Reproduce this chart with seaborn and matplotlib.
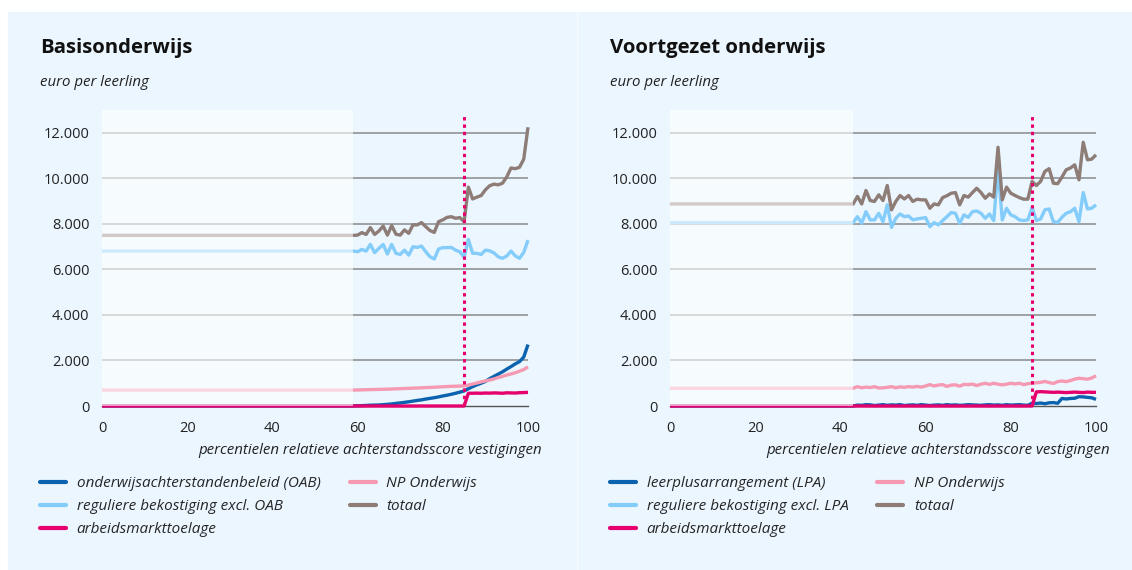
import numpy as np
import pandas as pd
import matplotlib.pyplot as plt
import matplotlib.patches as mpatches
from matplotlib.lines import Line2D
from matplotlib.ticker import FuncFormatter
import seaborn as sns

# ---- data: basisonderwijs (flat part up to pct 59, then per percentile 59..100)
bo_start = 59
bo_totaal = [7500, 7510, 7620, 7540, 7840, 7540, 7690, 7910, 7510, 7930, 7550,
             7510, 7740, 7590, 7960, 7960, 8060, 7880, 7710, 7630, 8100, 8180,
             8290, 8320, 8250, 8280, 8100, 9620, 9100, 9180, 9250, 9500, 9680,
             9750, 9720, 9790, 10060, 10460, 10430, 10490, 10850, 12250]
bo_regulier = [6810, 6780, 6880, 6810, 7100, 6740, 6930, 7100, 6680, 7100, 6710,
               6660, 6850, 6630, 7000, 6970, 7030, 6780, 6560, 6460, 6900, 6960,
               6960, 6970, 6850, 6780, 6530, 7320, 6710, 6710, 6660, 6850, 6820,
               6730, 6560, 6490, 6590, 6810, 6600, 6490, 6750, 7290]
bo_oab = [0, 10, 15, 25, 35, 40, 45, 60, 75, 90, 115, 135, 160, 185, 215, 245,
          270, 305, 335, 365, 400, 440, 475, 515, 560, 610, 660, 760, 850, 930,
          1000, 1080, 1200, 1300, 1400, 1500, 1620, 1730, 1850, 1950, 2150, 2700]
bo_np = [700, 705, 710, 715, 720, 725, 730, 735, 740, 745, 755, 760, 770, 775,
         785, 790, 800, 810, 815, 825, 835, 845, 855, 865, 870, 875, 880, 920,
         965, 1010, 1060, 1100, 1140, 1190, 1250, 1300, 1360, 1410, 1460, 1530,
         1600, 1720]
bo_amt = [0] * 27 + [560, 560, 565, 560, 570, 565, 575, 570, 560, 580, 575,
                     570, 585, 590, 600]

# ---- data: voortgezet onderwijs (flat part up to pct 43, then per percentile 43..100)
vo_start = 43
vo_totaal = [8880, 9210, 8880, 9470, 9030, 8990, 9280, 9030, 9690, 8620, 8990,
             9250, 9100, 9250, 8990, 9090, 9060, 9060, 8690, 8880, 8840, 9160,
             9240, 9350, 9380, 8840, 9250, 9180, 9380, 9570, 9380, 9130, 9320,
             9180, 11370, 9060, 9620, 9350, 9250, 9160, 9090, 9090, 9870, 9690,
             9870, 10310, 10430, 9790, 9770, 10060, 10380, 10460, 10600, 9940,
             11590, 10820, 10850, 11040]
vo_regulier = [8060, 8320, 8030, 8540, 8180, 8180, 8470, 8100, 8840, 7850, 8250,
               8440, 8320, 8350, 8180, 8220, 8250, 8280, 7880, 8060, 7960, 8150,
               8320, 8500, 8470, 8030, 8400, 8290, 8540, 8570, 8470, 8250, 8440,
               8150, 10450, 8180, 8690, 8400, 8320, 8180, 8150, 8180, 8730, 8150,
               8220, 8620, 8660, 8100, 8070, 8290, 8470, 8540, 8690, 8100, 9380,
               8660, 8690, 8840]
vo_lpa = [0, 40, 30, 60, 50, 20, 40, 60, 30, 50, 40, 60, 20, 40, 50, 30, 60,
          40, 20, 40, 50, 30, 60, 40, 50, 30, 40, 60, 50, 40, 30, 50, 60, 40,
          50, 30, 60, 40, 50, 60, 40, 30, 120, 110, 130, 100, 140, 150, 120,
          330, 310, 330, 340, 410, 400, 380, 360, 290]
vo_np = [780, 850, 800, 830, 810, 850, 790, 800, 820, 850, 800, 840, 820, 850,
         830, 860, 830, 880, 940, 880, 920, 940, 860, 920, 930, 870, 950, 940,
         960, 900, 960, 1000, 950, 1000, 960, 930, 960, 1000, 970, 1000, 940,
         980, 1000, 1020, 1040, 1080, 1030, 990, 1070, 1100, 1070, 1120, 1180,
         1220, 1200, 1180, 1230, 1330]
vo_amt = [0] * 43 + [620, 630, 620, 610, 600, 610, 600, 590, 600, 610, 600,
                     590, 610, 600, 600]

cutoff = 85
yticks = [0, 2000, 4000, 6000, 8000, 10000, 12000]
xticks = [0, 20, 40, 60, 80, 100]

series_order = ["prog", "regulier", "np", "totaal", "amt"]
colors = {"prog": "#0b62ae", "regulier": "#84cdfb", "amt": "#e5006e",
          "np": "#f59ab2", "totaal": "#8e7c77"}

panels = [
    dict(title="Basisonderwijs", start=bo_start,
         data={"prog": bo_oab, "regulier": bo_regulier, "amt": bo_amt,
               "np": bo_np, "totaal": bo_totaal},
         labels={"prog": "onderwijsachterstandenbeleid (OAB)",
                 "regulier": "reguliere bekostiging excl. OAB"}),
    dict(title="Voortgezet onderwijs", start=vo_start,
         data={"prog": vo_lpa, "regulier": vo_regulier, "amt": vo_amt,
               "np": vo_np, "totaal": vo_totaal},
         labels={"prog": "leerplusarrangement (LPA)",
                 "regulier": "reguliere bekostiging excl. LPA"}),
]

sns.set_theme(style="white")
plt.rcParams["font.family"] = ["Open Sans", "DejaVu Sans"]

W, H = 1132, 570
fig = plt.figure(figsize=(W / 100, H / 100), dpi=100)
fig.patch.set_facecolor("white")

# light blue panel backgrounds (behind the axes)
bg = "#ebf6fe"
fig.patches.append(mpatches.Rectangle((8 / W, 0), (576 - 8) / W, (H - 12) / H,
                                      transform=fig.transFigure, color=bg, zorder=-5))
fig.patches.append(mpatches.Rectangle((578 / W, 0), (W - 578) / W, (H - 12) / H,
                                      transform=fig.transFigure, color=bg, zorder=-5))

ymax = 13000
ax_w = 426 / W
ax_b = (H - 406) / H
ax_h = (406 - 110.2) / H

for i, p in enumerate(panels):
    x0 = 102 if i == 0 else 670
    ax = fig.add_axes([x0 / W, ax_b, ax_w, ax_h])
    ax.set_facecolor("none")

    # long table: flat part from 0 to start, then one point per percentile
    rows = []
    for key in series_order:
        vals = p["data"][key]
        rows.append((key, 0, vals[0]))
        for k, v in enumerate(vals):
            rows.append((key, p["start"] + k, v))
    df = pd.DataFrame(rows, columns=["reeks", "pct", "euro"])

    for key in series_order:
        sub = df[df["reeks"] == key]
        sns.lineplot(data=sub, x="pct", y="euro", color=colors[key], lw=2.4,
                     ax=ax, legend=False, zorder=3, clip_on=False,
                     solid_capstyle="butt")

    for yv in yticks[1:]:
        ax.axhline(yv, color="#8a8a8a", lw=1.1, zorder=1)

    ax.axvline(cutoff, ymin=0, ymax=12800 / ymax, color="#e5006e", lw=2.2,
               linestyle=(0, (1.1, 1.3)), zorder=4)

    # faded area before the first varying percentile
    ax.add_patch(mpatches.Rectangle((0, 0), p["start"], ymax, facecolor="white",
                                    alpha=0.6, edgecolor="none", zorder=5))

    ax.set_xlim(0, 100)
    ax.set_ylim(0, ymax)
    ax.set_xticks(xticks)
    ax.set_yticks(yticks)
    ax.yaxis.set_major_formatter(FuncFormatter(lambda v, _: f"{int(v):,}".replace(",", ".")))
    ax.tick_params(axis="y", length=0, pad=9, labelsize=10.5, labelcolor="#222222")
    ax.tick_params(axis="x", length=6, width=1, color="#555555", pad=5,
                   labelsize=10.5, labelcolor="#222222", direction="out")
    ax.set_xlabel("")
    ax.set_ylabel("")
    for s in ["top", "right", "left"]:
        ax.spines[s].set_visible(False)
    ax.spines["bottom"].set_color("#555555")
    ax.spines["bottom"].set_linewidth(1)
    ax.spines["bottom"].set_zorder(2)

    tx = 40 if i == 0 else 610
    fig.text(tx / W, 1 - 48 / H, p["title"], fontsize=14.7, fontweight="bold",
             color="#111111", va="center", ha="left")
    fig.text(tx / W, 1 - 83 / H, "euro per leerling", fontsize=10.8,
             style="italic", color="#222222", va="center", ha="left")
    xr = 542 if i == 0 else 1110
    fig.text(xr / W, 1 - 450 / H,
             "percentielen relatieve achterstandsscore vestigingen",
             fontsize=10.8, style="italic", color="#222222", va="center", ha="right")

    labels = {"prog": p["labels"]["prog"], "regulier": p["labels"]["regulier"],
              "amt": "arbeidsmarkttoelage", "np": "NP Onderwijs", "totaal": "totaal"}
    leg_order = ["prog", "regulier", "amt", "np", "totaal"]
    handles = [Line2D([], [], color=colors[k], lw=3) for k in leg_order]
    fig.legend(handles, [labels[k] for k in leg_order], ncol=2,
               loc="upper left", bbox_to_anchor=(tx / W, 1 - 476 / H),
               frameon=False, prop={"style": "italic", "size": 11},
               handlelength=1.7, handletextpad=0.7, columnspacing=1.9,
               labelspacing=0.52, borderaxespad=0, borderpad=0)

fig.savefig("out.png", dpi=100)
